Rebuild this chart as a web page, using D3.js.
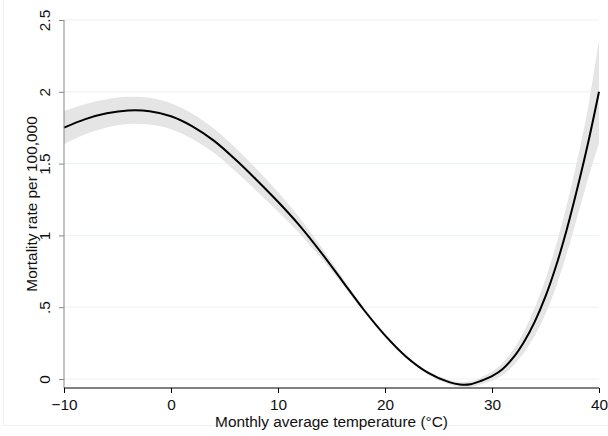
<!DOCTYPE html>
<html><head><meta charset="utf-8">
<script src="https://cdn.jsdelivr.net/npm/d3@7"></script>
<style>html,body{margin:0;padding:0;background:#fff;}svg{display:block;}</style>
</head><body>
<svg id="chart" width="608" height="436"></svg>
<script>
const temps = [-10,-8,-6,-4,-2,0,2,4,6,8,10,12,14,16,18,20,22,24,26,27,28,29,30,31,32,33,34,35,36,37,38,39,40];
const rate  = [1.75,1.81,1.85,1.87,1.865,1.83,1.76,1.66,1.53,1.386,1.234,1.07,0.884,0.684,0.484,0.304,0.154,0.045,-0.022,-0.038,-0.036,-0.012,0.02,0.07,0.15,0.26,0.40,0.575,0.79,1.045,1.335,1.65,2.0];
const halfCI = [0.115,0.105,0.098,0.095,0.093,0.09,0.088,0.085,0.082,0.077,0.068,0.055,0.04,0.025,0.015,0.012,0.012,0.013,0.015,0.017,0.02,0.025,0.032,0.042,0.056,0.075,0.097,0.12,0.145,0.17,0.2,0.25,0.36];
const lower = rate.map((v,i)=>+(v-halfCI[i]).toFixed(3));
const upper = rate.map((v,i)=>+(v+halfCI[i]).toFixed(3));
const xTicks = [-10,0,10,20,30,40];
const yTicks = [0,0.5,1,1.5,2,2.5];
const yTickLabels = ["0",".5","1","1.5","2","2.5"];
const xTitle = "Monthly average temperature (°C)";
const yTitle = "Mortality rate per 100,000";

const svg = d3.select("#chart");
const font = "'Liberation Sans', Arial, sans-serif";
const fs = 15.4;
const x = d3.scaleLinear().domain([-10,40]).range([64,599]);
const y = d3.scaleLinear().domain([0,2.5]).range([379,20]);
const axisY = 388;

// faint outer frame
svg.append("line").attr("x1",3.5).attr("x2",3.5).attr("y1",0).attr("y2",425.5).attr("stroke","#f0f0f0");
svg.append("line").attr("x1",3.5).attr("x2",608).attr("y1",425.5).attr("y2",425.5).attr("stroke","#f0f0f0");

// grid
svg.append("g").selectAll("line").data(yTicks).join("line")
  .attr("x1",64).attr("x2",599).attr("y1",d=>y(d)).attr("y2",d=>y(d))
  .attr("stroke","#eaf2f3").attr("stroke-width",1);

const data = temps.map((t,i)=>({t, r:rate[i], lo:lower[i], hi:upper[i]}));
const curve = d3.curveCatmullRom.alpha(0.5);
svg.append("path").datum(data)
  .attr("d", d3.area().x(d=>x(d.t)).y0(d=>y(d.lo)).y1(d=>y(d.hi)).curve(curve))
  .attr("fill","#e5e5e5");
svg.append("path").datum(data)
  .attr("d", d3.line().x(d=>x(d.t)).y(d=>y(d.r)).curve(curve))
  .attr("fill","none").attr("stroke","#000").attr("stroke-width",2);

// y axis
const gy = svg.append("g").attr("transform","translate(64,0)")
  .call(d3.axisLeft(y).tickValues(yTicks).tickFormat((d,i)=>yTickLabels[i]).tickSize(5).tickPadding(6));
gy.select(".domain").remove();
gy.append("line").attr("x1",0).attr("x2",0).attr("y1",y(2.5)).attr("y2",axisY).attr("stroke","#888");
gy.selectAll(".tick line").attr("stroke","#888");
gy.selectAll(".tick text").attr("transform","rotate(-90)").attr("x",0).attr("y",-14)
  .attr("dy",0).attr("text-anchor","middle")
  .attr("font-family",font).attr("font-size",fs).attr("fill","#111");

// x axis
const gx = svg.append("g").attr("transform",`translate(0,${axisY})`)
  .call(d3.axisBottom(x).tickValues(xTicks).tickFormat(d3.format("d")).tickSize(5).tickPadding(6));
gx.select(".domain").remove();
gx.append("line").attr("x1",64).attr("x2",599).attr("y1",0).attr("y2",0).attr("stroke","#000");
gx.selectAll(".tick line").attr("stroke","#000");
gx.selectAll(".tick text").attr("font-family",font).attr("font-size",fs).attr("fill","#111");

svg.append("text").attr("x",(64+599)/2).attr("y",427).attr("text-anchor","middle")
  .attr("font-family",font).attr("font-size",fs).attr("fill","#111").text(xTitle);
svg.append("text").attr("transform",`translate(36.5,${(20+388)/2}) rotate(-90)`).attr("text-anchor","middle")
  .attr("font-family",font).attr("font-size",fs).attr("fill","#111").text(yTitle);
</script>
</body></html>
